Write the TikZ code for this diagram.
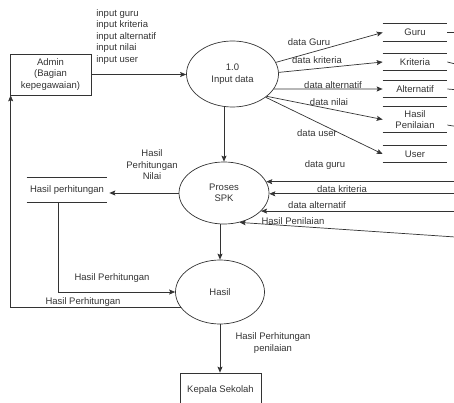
\documentclass[tikz,border=0pt]{standalone}
\usepackage{fontspec}
\setmainfont{Liberation Sans}
\usetikzlibrary{shapes.geometric,arrows.meta}

\tikzset{
  proc/.style={draw, ellipse, inner sep=0pt, align=center},
  ent/.style={draw, rectangle, inner sep=0pt, align=center},
  store/.style={rectangle, inner sep=0pt, minimum width=64pt, align=center},
  lbl/.style={inner sep=0pt, align=center},
  arr/.style={-{Stealth[length=6pt, width=5pt, inset=1.2pt]}},
}

\begin{document}
\begin{tikzpicture}[x=1pt, y=-1pt, line width=0.7pt, color=black!80, font=\fontsize{9.5}{11.5}\selectfont]
	\useasboundingbox (0,0) rectangle (454,403);
	\clip (0,0) rectangle (454,403);
	%%%%% START %%%%%
	\node[ent, minimum width=81pt, minimum height=41pt] (admin) at (50.5,74.5) {Admin\\(Bagian\\kepegawaian)};
	\node[proc, minimum width=92pt, minimum height=66pt] (inp) at (232.5,74) {1.0\\Input data};
	\node[proc, minimum width=90pt, minimum height=62pt] (spk) at (224,193) {Proses\\SPK};
	\node[proc, minimum width=89pt, minimum height=64pt] (hasil) at (220,292) {Hasil};
	\node[ent, minimum width=81pt, minimum height=34pt] (kepsek) at (220.5,390) {Kepala Sekolah};
	
	\node[store, minimum height=17pt] (guru) at (415,32.5) {Guru};
	\node[store, minimum height=16pt] (krit) at (415,62) {Kriteria};
	\node[store, minimum height=16pt] (alt) at (415,89) {Alternatif};
	\node[store, minimum height=25pt] (hpen) at (415,119.5) {Hasil\\Penilaian};
	\node[store, minimum height=16pt] (user) at (415,154) {User};
	\node[store, minimum height=24pt, minimum width=80pt] (hper) at (67,190) {Hasil perhitungan};
	\foreach \s in {guru,krit,alt,hpen,user,hper}
		\draw (\s.north west) -- (\s.north east) (\s.south west) -- (\s.south east);
	
	\draw[arr] (admin.east) -- (admin.east -| inp.west);
	\node[lbl, align=left, anchor=north west] (inlbl) at (96,9) {input guru\\input kriteria\\input alternatif\\input nilai\\input user};
	
	\draw[arr] (inp.15) -- (guru.west);
	\draw[arr] (inp.2) -- (krit.west);
	\draw[arr] (inp.-20) -- (alt.west);
	\draw[arr] (inp.-33) -- (hpen.west);
	\draw[arr] (inp.-35) -- (user.west);
	\node[lbl] (lguru) at (309,42) {data Guru};
	\node[lbl] (lkrit) at (317,60) {data kriteria};
	\node[lbl] (lalt) at (333,85) {data alternatif};
	\node[lbl] (lnil) at (329,102) {data nilai};
	\node[lbl] (luser) at (317,133) {data user};
	
	\draw (guru.east) -- ++(12,0);
	\draw (krit.east) -- ++(12,3);
	\draw (alt.east) -- ++(12,1);
	\draw ([yshift=-5.5pt]hpen.east) -- ++(12,2);
	
	\draw[arr] (spk.north |- inp.south) -- (spk.north);
	\draw[arr] (spk.west) -- ([xshift=2pt]spk.west -| hper.east);
	\node[lbl] (lnilai) at (152,165) {Hasil\\Perhitungan\\Nilai};
	
	\coordinate (rim) at (470,0);
	\coordinate (rhp) at (470,238);
	\draw[arr] (rim |- spk.15) -- (spk.15);
	\draw[arr] (rim |- spk.-1) -- (spk.-1);
	\draw[arr] (rim |- spk.-26) -- (spk.-26);
	\draw[arr] (rhp) -- (spk.-62);
	\node[lbl] (lg2) at (325,165) {data guru};
	\node[lbl] (lk2) at (342,189) {data kriteria};
	\node[lbl] (la2) at (317,205) {data alternatif};
	\node[lbl] (lh2) at (293,221) {Hasil Penilaian};
	
	\draw[arr] ([xshift=-9pt]hper.south) |- (hasil.west);
	\node[lbl] (lhp1) at (112,278) {Hasil Perhitungan};
	\draw[arr] (hasil.202) -| ([xshift=1pt]admin.south west);
	\node[lbl] (lhp2) at (83,302) {Hasil Perhitungan};
	
	\draw[arr] (hasil.north |- spk.south) -- (hasil.north);
	\draw[arr] (hasil.south) -- (hasil.south |- kepsek.north);
	\node[lbl] (lkep) at (273,343) {Hasil Perhitungan\\penilaian};
	%%%%% END %%%%%
\end{tikzpicture}
\end{document}
